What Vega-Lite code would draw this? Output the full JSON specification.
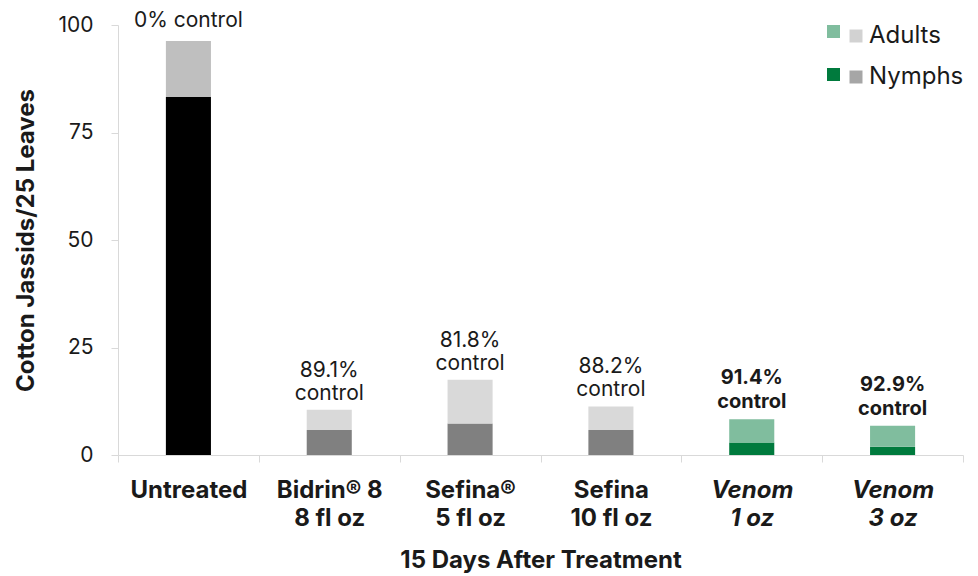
{
  "$schema": "https://vega.github.io/schema/vega-lite/v6.json",
  "width": 845,
  "height": 430,
  "autosize": {"type": "none"},
  "padding": {"left": 118, "top": 25, "right": 15, "bottom": 121},
  "background": "white",
  "config": {
    "view": {"stroke": null},
    "font": "Inter",
    "axis": {
      "domainColor": "#D9D9D9",
      "tickColor": "#D9D9D9",
      "labelColor": "#1a1a1a",
      "titleColor": "#1a1a1a",
      "grid": false
    }
  },
  "datasets": {
    "bars": [
      {"group": "Untreated", "stage": "Nymphs", "series": "Untreated Nymphs", "value": 83.3},
      {"group": "Untreated", "stage": "Adults", "series": "Untreated Adults", "value": 13.0},
      {"group": "Bidrin® 8|8 fl oz", "stage": "Nymphs", "series": "Standard Nymphs", "value": 5.8},
      {"group": "Bidrin® 8|8 fl oz", "stage": "Adults", "series": "Standard Adults", "value": 4.7},
      {"group": "Sefina®|5 fl oz", "stage": "Nymphs", "series": "Standard Nymphs", "value": 7.3},
      {"group": "Sefina®|5 fl oz", "stage": "Adults", "series": "Standard Adults", "value": 10.2},
      {"group": "Sefina|10 fl oz", "stage": "Nymphs", "series": "Standard Nymphs", "value": 5.8},
      {"group": "Sefina|10 fl oz", "stage": "Adults", "series": "Standard Adults", "value": 5.5},
      {"group": "Venom|1 oz", "stage": "Nymphs", "series": "Venom Nymphs", "value": 2.9},
      {"group": "Venom|1 oz", "stage": "Adults", "series": "Venom Adults", "value": 5.4},
      {"group": "Venom|3 oz", "stage": "Nymphs", "series": "Venom Nymphs", "value": 1.9},
      {"group": "Venom|3 oz", "stage": "Adults", "series": "Venom Adults", "value": 4.9}
    ],
    "labels": [
      {"group": "Untreated", "total": 96.3, "label": "0% control"},
      {"group": "Bidrin® 8|8 fl oz", "total": 10.5, "label": "89.1%\ncontrol"},
      {"group": "Sefina®|5 fl oz", "total": 17.5, "label": "81.8%\ncontrol"},
      {"group": "Sefina|10 fl oz", "total": 11.3, "label": "88.2%\ncontrol"},
      {"group": "Venom|1 oz", "total": 8.3, "label": "91.4%\ncontrol"},
      {"group": "Venom|3 oz", "total": 6.8, "label": "92.9%\ncontrol"}
    ]
  },
  "layer": [
    {
      "data": {"name": "bars"},
      "mark": {"type": "bar", "width": {"band": 0.32}},
      "encoding": {
        "x": {
          "field": "group",
          "type": "nominal",
          "scale": {
            "domain": ["Untreated", "Bidrin® 8|8 fl oz", "Sefina®|5 fl oz", "Sefina|10 fl oz", "Venom|1 oz", "Venom|3 oz"],
            "paddingInner": 0,
            "paddingOuter": 0
          },
          "axis": {
            "title": "15 Days After Treatment",
            "titleFontSize": 24,
            "titleFontWeight": "bold",
            "titlePadding": 18,
            "labelAngle": 0,
            "labelExpr": "isString(datum.label) ? split(datum.label, '|') : ''",
            "labelFontSize": 24,
            "labelFontWeight": "bold",
            "labelFontStyle": {"condition": {"test": "isString(datum.value) && indexof(datum.value, 'Venom') === 0", "value": "italic"}, "value": "normal"},
            "labelLineHeight": 28,
            "labelPadding": 16,
            "labelBaseline": "top",
            "tickSize": 7,
            "tickBand": "extent"
          }
        },
        "y": {
          "field": "value",
          "type": "quantitative",
          "stack": "zero",
          "scale": {"domain": [0, 100]},
          "axis": {
            "title": "Cotton Jassids/25 Leaves",
            "titleFontSize": 24,
            "titleFontWeight": "bold",
            "titlePadding": 19,
            "values": [0, 25, 50, 75, 100],
            "labelFontSize": 21,
            "labelPadding": 18,
            "tickSize": 7
          }
        },
        "order": {"field": "stage", "sort": "descending"},
        "color": {
          "field": "series",
          "type": "nominal",
          "scale": {
            "domain": ["Untreated Nymphs", "Untreated Adults", "Standard Nymphs", "Standard Adults", "Venom Nymphs", "Venom Adults"],
            "range": ["#000000", "#BFBFBF", "#808080", "#D9D9D9", "#007A3D", "#80BD9E"]
          },
          "legend": {
            "values": ["Venom Adults", "Venom Nymphs"],
            "orient": "none",
            "legendX": 708,
            "legendY": -1,
            "title": null,
            "symbolType": "square",
            "symbolSize": 169,
            "labelExpr": "''",
            "rowPadding": 29
          }
        }
      }
    },
    {
      "data": {"name": "labels"},
      "transform": [{"filter": "datum.group === 'Untreated'"}],
      "mark": {"type": "text", "baseline": "alphabetic", "dy": -14, "fontSize": 21, "color": "#1a1a1a"},
      "encoding": {
        "x": {"field": "group", "type": "nominal"},
        "y": {"field": "total", "type": "quantitative"},
        "text": {"field": "label"}
      }
    },
    {
      "data": {"name": "labels"},
      "transform": [{"filter": "datum.group !== 'Untreated' && indexof(datum.group, 'Venom') !== 0"}],
      "mark": {"type": "text", "baseline": "alphabetic", "dy": -33, "fontSize": 21, "lineHeight": 23, "lineBreak": "\n", "color": "#1a1a1a"},
      "encoding": {
        "x": {"field": "group", "type": "nominal"},
        "y": {"field": "total", "type": "quantitative"},
        "text": {"field": "label"}
      }
    },
    {
      "data": {"name": "labels"},
      "transform": [{"filter": "indexof(datum.group, 'Venom') === 0"}],
      "mark": {"type": "text", "baseline": "alphabetic", "dy": -35, "fontSize": 20, "fontWeight": "bold", "lineHeight": 24, "lineBreak": "\n", "color": "#1a1a1a"},
      "encoding": {
        "x": {"field": "group", "type": "nominal"},
        "y": {"field": "total", "type": "quantitative"},
        "text": {"field": "label"}
      }
    },
    {
      "data": {"name": "bars"},
      "mark": {"type": "point", "filled": true, "size": 0, "shape": "square"},
      "encoding": {
        "x": {"field": "group", "type": "nominal"},
        "y": {"field": "value", "type": "quantitative", "stack": null},
        "fill": {
          "field": "stage",
          "type": "nominal",
          "scale": {"domain": ["Adults", "Nymphs"], "range": ["#BFBFBF", "#808080"]},
          "legend": {
            "orient": "none",
            "legendX": 726,
            "legendY": -1,
            "title": null,
            "symbolType": "square",
            "symbolSize": 169,
            "labelFontSize": 24,
            "labelColor": "#1a1a1a",
            "labelOffset": 1,
            "rowPadding": 17
          }
        }
      }
    }
  ]
}
